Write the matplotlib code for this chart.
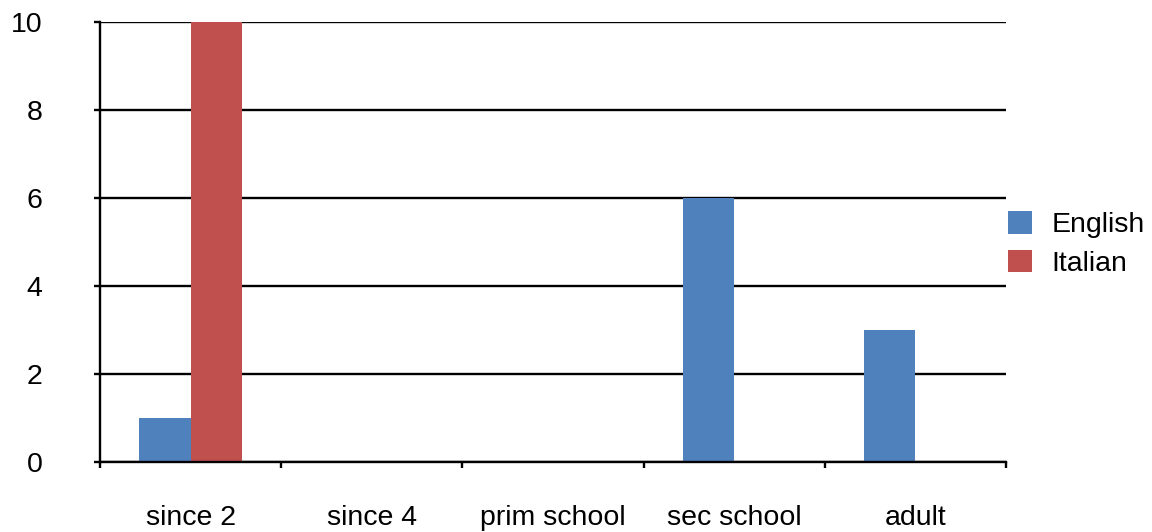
import matplotlib
matplotlib.use("Agg")
import matplotlib.pyplot as plt
import numpy as np
from matplotlib.patches import Patch

categories = ["since 2", "since 4", "prim school", "sec school", "adult"]
english = [1, 0, 0, 6, 3]
italian = [10, 0, 0, 0, 0]
series_names = ["English", "Italian"]
colors = ["#4F81BD", "#C0504D"]

plt.rcParams["font.family"] = ["Liberation Sans", "DejaVu Sans"]
FS = 20.5

fig = plt.figure(figsize=(11.52, 5.32), dpi=100)
ax = fig.add_axes([100 / 1152, 1 - 462 / 532, 906 / 1152, 440 / 532])

x = np.arange(len(categories))
w = 0.284
ax.bar(x - w / 2, english, width=w, color=colors[0], zorder=3)
ax.bar(x + w / 2, italian, width=w, color=colors[1], zorder=3)

ax.set_xlim(-0.5, len(categories) - 0.5)
ax.set_ylim(0, 10)
ax.set_yticks(np.arange(0, 11, 2))
ax.yaxis.grid(True, color="black", linewidth=1.7, zorder=1)
ax.set_axisbelow(True)

# category boundaries carry the x ticks; labels sit at category centres
ax.set_xticks(np.arange(-0.5, len(categories), 1.0))
ax.set_xticklabels([])
ax.set_xticks(x, minor=True)
ax.set_xticklabels(categories, minor=True, fontsize=FS)
ax.tick_params(axis="x", which="major", direction="out", length=4.5, width=1.7, color="black")
ax.tick_params(axis="x", which="minor", length=0, pad=31)
ax.tick_params(axis="y", direction="out", length=4.5, width=1.7, labelsize=FS, pad=37)

for s in ["top", "right"]:
    ax.spines[s].set_visible(False)
ax.spines["left"].set_linewidth(1.7)
ax.spines["bottom"].set_linewidth(1.7)
ax.spines["left"].set_zorder(4)
ax.spines["bottom"].set_zorder(4)

handles = [Patch(facecolor=c, edgecolor="none") for c in colors]
fig.legend(handles, series_names, loc="center left", bbox_to_anchor=(1008 / 1152, 1 - 244 / 532),
           frameon=False, fontsize=FS, handlelength=0.84, handleheight=0.84, borderpad=0,
           borderaxespad=0, handletextpad=0.7, labelspacing=0.4)

fig.savefig("out.png", dpi=100)
